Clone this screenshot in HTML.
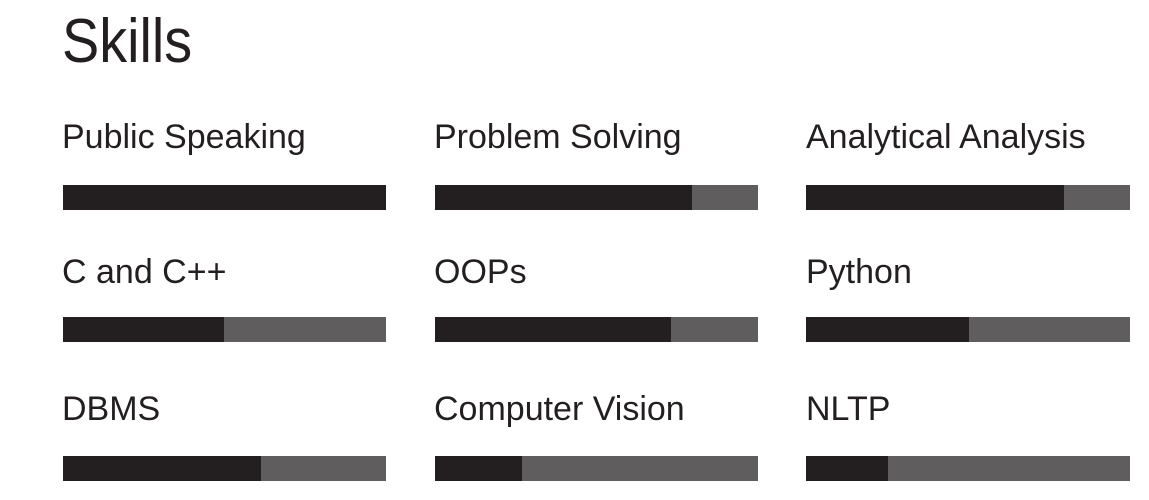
<!DOCTYPE html>
<html><head><style>
body{margin:0;width:1149px;height:500px;background:#fff;position:relative;overflow:hidden;font-family:"Liberation Sans",sans-serif;color:#231f20}
.t{position:absolute;white-space:nowrap;line-height:1;font-size:34px}
.b{position:absolute;height:25px;background:#5f5d5e;width:323px}
.b i{position:absolute;left:0;top:0;bottom:0;background:#231f20}
</style></head><body>
<div class="t" style="left:62px;top:11px;font-size:62px;transform:scaleX(0.9);transform-origin:left">Skills</div>
<div class="t" style="left:62px;top:120px">Public Speaking</div>
<div class="t" style="left:434px;top:120px">Problem Solving</div>
<div class="t" style="left:806px;top:120px">Analytical Analysis</div>
<div class="t" style="left:62px;top:255px">C and C++</div>
<div class="t" style="left:434px;top:255px">OOPs</div>
<div class="t" style="left:806px;top:255px">Python</div>
<div class="t" style="left:62px;top:392px">DBMS</div>
<div class="t" style="left:434px;top:392px">Computer Vision</div>
<div class="t" style="left:806px;top:392px">NLTP</div>
<div class="b" style="left:63px;top:185px"><i style="width:323px"></i></div>
<div class="b" style="left:435px;top:185px"><i style="width:257px"></i></div>
<div class="b" style="left:806px;top:185px;width:324px"><i style="width:258px"></i></div>
<div class="b" style="left:63px;top:317px"><i style="width:161px"></i></div>
<div class="b" style="left:435px;top:317px"><i style="width:236px"></i></div>
<div class="b" style="left:806px;top:317px;width:324px"><i style="width:163px"></i></div>
<div class="b" style="left:63px;top:456px"><i style="width:198px"></i></div>
<div class="b" style="left:435px;top:456px"><i style="width:87px"></i></div>
<div class="b" style="left:806px;top:456px;width:324px"><i style="width:82px"></i></div>
</body></html>
